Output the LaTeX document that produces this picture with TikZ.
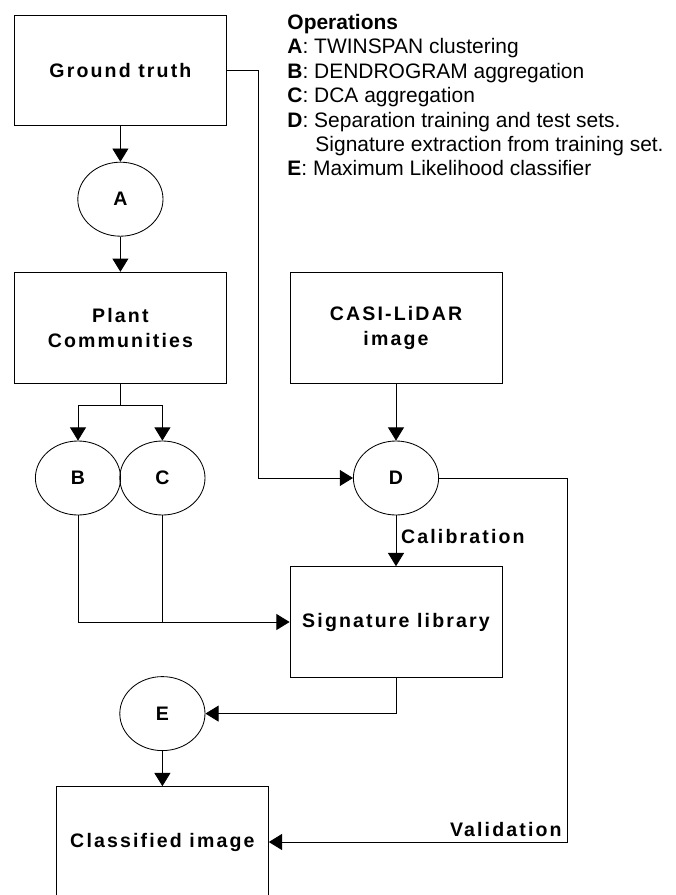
\documentclass[tikz,border=0pt]{standalone}
\usepackage{fontspec}
\setmainfont{Liberation Sans}
\newfontfamily\spacedfont{Liberation Sans}[LetterSpace=11]
\usetikzlibrary{arrows.meta,shapes.geometric}

\begin{document}
\begin{tikzpicture}[
        block/.style={rectangle, draw, line width=0.6pt, minimum width=5.3cm, minimum height=2.77cm, align=center, font=\spacedfont\bfseries\fontsize{13.9}{17.8}\selectfont},
        op/.style={ellipse, draw, line width=0.6pt, minimum width=2.13cm, minimum height=1.85cm, inner sep=0pt, font=\spacedfont\bfseries\fontsize{13.9}{17.8}\selectfont},
        flow/.style={line width=0.6pt, -{Triangle[width=0.4cm,length=0.33cm]}},
        wire/.style={line width=0.6pt},
        tag/.style={font=\spacedfont\bfseries\fontsize{13.9}{17.8}\selectfont}
    ]
        \useasboundingbox (0,0) rectangle (16.9,-22.375);

        % Blocs de données
        \node[block] (GT) at (3.01,-1.76) {Ground truth};
        \node[block] (PC) at (3.01,-8.19) {Plant\\Communities};
        \node[block] (CASI) at (9.9,-8.19) {CASI-LiDAR\\image};
        \node[block] (SL) at (9.9,-15.55) {Signature library};
        \node[block] (CI) at (4.06,-21.05) {Classified image};

        % Opérations (ellipses)
        \node[op] (A) at (3.01,-4.98) {A};
        \node[op] (B) at (1.95,-11.95) {B};
        \node[op] (C) at (4.06,-11.95) {C};
        \node[op] (D) at (9.9,-11.95) {D};
        \node[op] (E) at (4.06,-17.84) {E};

        % Légende
        \node[anchor=north west, align=left, inner sep=0pt, font=\fontsize{14.9}{17.35}\selectfont] (ops) at (7.18,-0.35) {\textbf{Operations}\\
            \textbf{A}: TWINSPAN clustering\\
            \textbf{B}: DENDROGRAM aggregation\\
            \textbf{C}: DCA aggregation\\
            \textbf{D}: Separation training and test sets.\\
            \hspace*{0.7cm}Signature extraction from training set.\\
            \textbf{E}: Maximum Likelihood classifier};

        % Flux
        \draw[flow] (GT) -- (A);
        \draw[flow] (A) -- (PC);
        \draw[wire] (PC.south) -- ++(0,-0.54) coordinate (split);
        \draw[flow] (split) -| (B);
        \draw[flow] (split) -| (C);
        \draw[flow] (GT.east) -- ++(0.79,0) |- (D);
        \draw[flow] (CASI) -- (D);
        \draw[flow] (D) -- node[tag, right, pos=0.42] (cal) {Calibration} (SL);
        \draw[flow] (B) |- (SL);
        \draw[wire] (C) -- (C |- SL.west);
        \draw[flow] (D.east) -- ++(3.2,0) |- node[tag, pos=0.5, above left, inner sep=3.5pt] (val) {Validation} (CI.east);
        \draw[flow] (SL) |- (E);
        \draw[flow] (E) -- (CI);
    \end{tikzpicture}
\end{document}
